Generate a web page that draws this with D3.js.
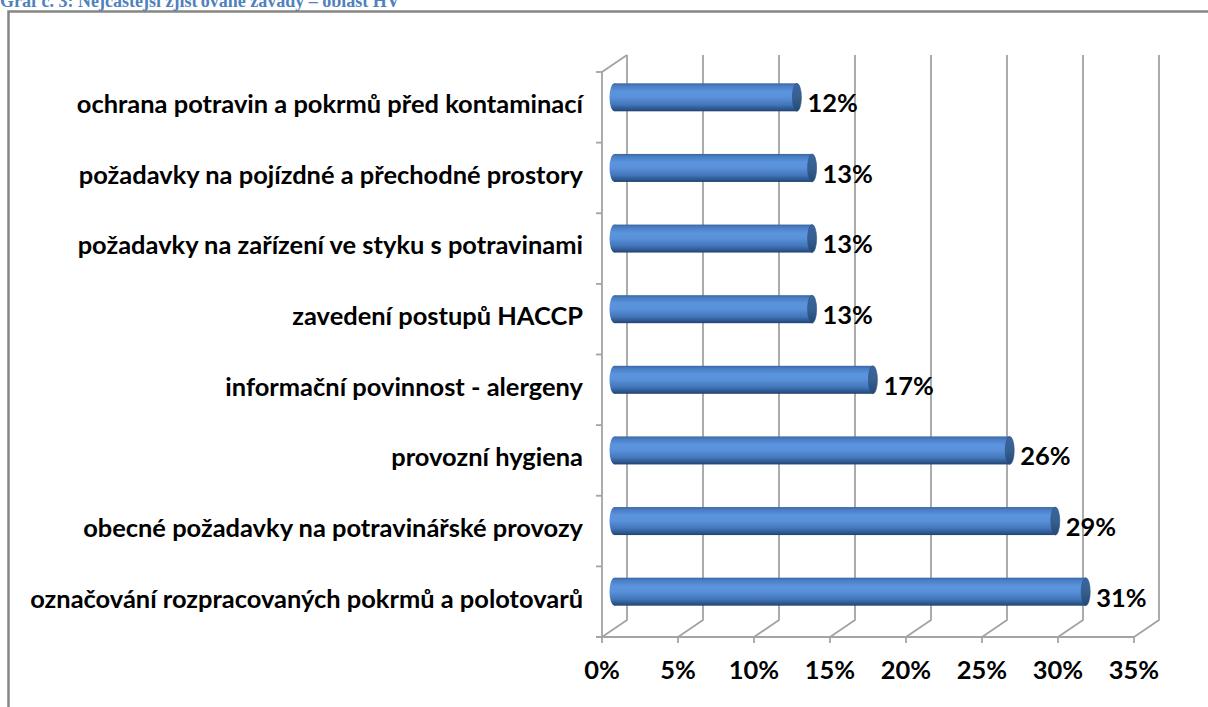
<!DOCTYPE html>
<html>
<head>
<meta charset="utf-8">
<script src="https://cdn.jsdelivr.net/npm/d3@7"></script>
<style>
  html, body { margin: 0; padding: 0; background: #fff; }
  svg { display: block; }
</style>
</head>
<body>
<svg id="chart" width="1208" height="707"></svg>
<script>
const titleText = "Graf č. 3: Nejčastější zjišťované závady – oblast HV";
const categories = [
  "ochrana potravin a pokrmů před kontaminací",
  "požadavky na pojízdné a přechodné prostory",
  "požadavky na zařízení ve styku s potravinami",
  "zavedení postupů HACCP",
  "informační povinnost - alergeny",
  "provozní hygiena",
  "obecné požadavky na potravinářské provozy",
  "označování rozpracovaných pokrmů a polotovarů"
];
const values = [12, 13, 13, 13, 17, 26, 29, 31];
const tickValues = [0, 5, 10, 15, 20, 25, 30, 35];

const svg = d3.select("#chart");
const W = 1208, H = 707;
const depth = { dx: 25, dy: -17 };

const x = d3.scaleLinear().domain([0, 35]).range([602, 1134]);
const y = d3.scaleBand().domain(categories).range([72, 637]).padding(0);
const yTop = 72 + depth.dy, yFloor = 637;

const font = "Lato, 'Open Sans', sans-serif";

// defs: bar gradient
const defs = svg.append("defs");
const g1 = defs.append("linearGradient").attr("id", "barGrad")
  .attr("x1", 0).attr("y1", 0).attr("x2", 0).attr("y2", 1);
[[0, "#3a67a3"], [0.1, "#4a7ec4"], [0.3, "#5b94de"], [0.5, "#5990d9"],
 [0.75, "#4478bd"], [0.9, "#2f5a94"], [1, "#22436f"]]
  .forEach(([o, c]) => g1.append("stop").attr("offset", o).attr("stop-color", c));
const g2 = defs.append("linearGradient").attr("id", "capGrad")
  .attr("x1", 0).attr("y1", 0).attr("x2", 0).attr("y2", 1);
[[0, "#3c669f"], [0.5, "#35608f"], [1, "#254874"]]
  .forEach(([o, c]) => g2.append("stop").attr("offset", o).attr("stop-color", c));

// frame
svg.append("path")
  .attr("d", `M8.5,${H} L8.5,11.5 L${W},11.5`)
  .attr("fill", "none").attr("stroke", "#868686").attr("stroke-width", 2.5);

// title (cut at the top edge, as in the reference)
svg.append("text")
  .attr("x", 0).attr("y", 7)
  .attr("font-family", "'Liberation Serif', 'Times New Roman', serif")
  .attr("font-weight", "bold").attr("font-size", 18)
  .attr("fill", "#4f81bd")
  .text(titleText);

const grid = svg.append("g").attr("stroke", "#a3a3a3").attr("stroke-width", 1.8).attr("fill", "none");

// back wall vertical gridlines + floor diagonals
tickValues.forEach(t => {
  const bx = x(t) + depth.dx;
  grid.append("path")
    .attr("d", `M${bx},${yTop} L${bx},${yFloor + depth.dy} L${x(t)},${yFloor}`);
  grid.append("line").attr("x1", x(t)).attr("x2", x(t)).attr("y1", yFloor).attr("y2", yFloor + 6);
});

// front floor edge
grid.append("line").attr("x1", x(0) - 6).attr("x2", x(35)).attr("y1", yFloor).attr("y2", yFloor);

// left (category) axis front edge + top diagonal
grid.append("path")
  .attr("d", `M${x(0)},${yFloor} L${x(0)},${y.range()[0]} L${x(0) + depth.dx},${yTop}`);

// category ticks
const catBounds = categories.map(c => y(c)).concat([y.range()[1]]);
catBounds.forEach(b => {
  grid.append("line").attr("x1", x(0) - 6).attr("x2", x(0)).attr("y1", b).attr("y2", b);
});

// font size: fit longest label to its width in the reference
const probe = svg.append("text").attr("font-family", font).attr("font-weight", "bold")
  .attr("font-size", 20).text(categories[7]);
const measured = probe.node().getComputedTextLength();
probe.remove();
const fs = 20 * 553 / measured;

// category labels
svg.append("g").selectAll("text").data(categories).join("text")
  .attr("x", 583)
  .attr("y", d => y(d) + y.bandwidth() / 2 - 3)
  .attr("dy", "0.35em")
  .attr("text-anchor", "end")
  .attr("font-family", font).attr("font-weight", "bold").attr("font-size", fs)
  .attr("fill", "#000")
  .text(d => d);

// bars (cylinders)
const barH = 28, capRx = 4.5;
const bars = svg.append("g");
categories.forEach((c, i) => {
  const v = values[i];
  const cy = y(c) + y.bandwidth() / 2 + depth.dy / 2 - 1.5;
  const x0 = x(0) + depth.dx / 2;
  const x1 = x(v) + depth.dx / 2;
  const g = bars.append("g");
  g.append("ellipse").attr("cx", x0).attr("cy", cy).attr("rx", capRx + 0.5).attr("ry", barH / 2)
    .attr("fill", "url(#barGrad)");
  g.append("rect").attr("x", x0).attr("y", cy - barH / 2).attr("width", x1 - x0).attr("height", barH)
    .attr("fill", "url(#barGrad)");
  g.append("ellipse").attr("cx", x1).attr("cy", cy).attr("rx", capRx).attr("ry", barH / 2)
    .attr("fill", "url(#capGrad)").attr("stroke", "#2c5185").attr("stroke-width", 0.6);
  g.append("text")
    .attr("x", x1 + capRx + 6)
    .attr("y", y(c) + y.bandwidth() / 2 - 4)
    .attr("dy", "0.35em")
    .attr("font-family", font).attr("font-weight", "bold").attr("font-size", fs)
    .attr("fill", "#000")
    .text(v + "%");
});

// x tick labels
svg.append("g").selectAll("text").data(tickValues).join("text")
  .attr("x", d => x(d))
  .attr("y", 670)
  .attr("dy", "0.35em")
  .attr("text-anchor", "middle")
  .attr("font-family", font).attr("font-weight", "bold").attr("font-size", fs)
  .attr("fill", "#000")
  .text(d => d + "%");
</script>
</body>
</html>
